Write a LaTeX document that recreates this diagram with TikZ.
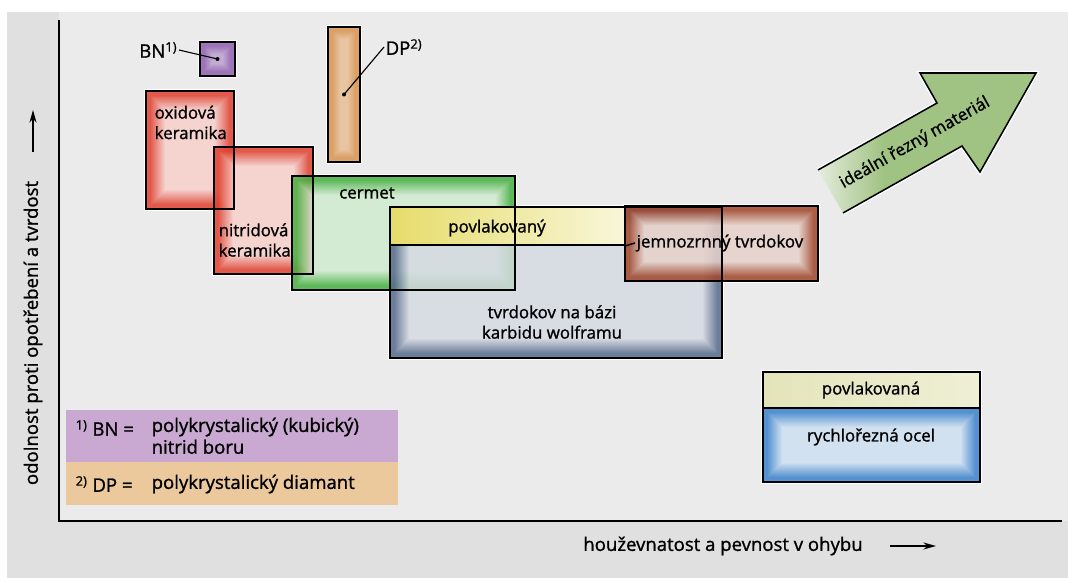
\documentclass[tikz,border=0pt]{standalone}
\usepackage{fontspec}
\setmainfont{Open Sans}[FakeBold=1.2]
\usetikzlibrary{fit,arrows.meta}

\definecolor{bggray}{HTML}{EBEBEB}
\definecolor{sidegray}{HTML}{E0E0E0}
\definecolor{oxred}{HTML}{E0402F}
\definecolor{cermetgreen}{HTML}{45B040}
\definecolor{carbblue}{HTML}{566A8C}
\definecolor{finebrown}{HTML}{A0462A}
\definecolor{bnpurple}{HTML}{9060B0}
\definecolor{dptan}{HTML}{D8944E}
\definecolor{hssblue}{HTML}{3A82CC}
\definecolor{coatyellow}{HTML}{E6DC6A}
\definecolor{hsscoat}{HTML}{E4E4BA}
\definecolor{arrowgreen}{HTML}{A0C282}
\definecolor{arrowlight}{HTML}{E4ECDC}
\definecolor{legpurple}{HTML}{C9A9D2}
\definecolor{legtan}{HTML}{EBC99D}

\pgfdeclarehorizontalshading{arrowfade}{100bp}{color(0bp)=(arrowlight); color(25bp)=(arrowlight); color(40bp)=(arrowgreen); color(100bp)=(arrowgreen)}

% box with dark edges and a light middle (#6 = number of steps)
\newcommand{\matfill}[6][19]{%
\begin{scope}[transparency group, opacity=0.85]
\foreach \i in {0,...,#1} {
\pgfmathtruncatemacro{\pc}{min(100,120-5*\i)}
\fill[#2!\pc!white] (#3+\i, #4+\i) rectangle (#5-\i, #6-\i);
}
\end{scope}
}

\tikzset{
matbox/.style={draw, line width=1.1pt, inner sep=0pt},
halo/.style={draw=white, line width=3pt},
txt/.style={inner sep=1pt, font=\fontsize{12}{14.5}\selectfont},
bigtxt/.style={inner sep=1pt, font=\fontsize{13.2}{15.5}\selectfont},
leader/.style={line width=0.8pt},
axarrow/.style={line width=1pt, -{Stealth[length=9pt, width=5pt]}},
}

\begin{document}
\begin{tikzpicture}[x=0.025cm, y=-0.025cm]
\useasboundingbox (0,0) rectangle (1068,578);
% background
\fill[white] (0,0) rectangle (1068,578);
\fill[sidegray] (7,12) rectangle (1068,578);
\fill[bggray] (59,12) rectangle (1068,521);

% white halos
\foreach \a/\b/\c/\d in {200/42/235/76, 328/27/360/162, 146/91/234/209, 214/147/313/274,
  292/176/515/290, 390/207/722/358, 625/206/818/281, 763/372/980/482} {
\draw[halo] (\a,\b) rectangle (\c,\d);
}
\draw[halo, line join=miter] (818,170) -- (937,103) -- (920,73) -- (1036,73) -- (980,172) -- (962,146) -- (843,213);

% fills
\matfill{oxred}{146}{91}{234}{209}
\matfill{oxred}{214}{147}{313}{274}
\matfill[12]{dptan}{328}{27}{360}{162}
\matfill[12]{bnpurple}{200}{42}{235}{76}
\matfill{cermetgreen}{292}{176}{515}{290}
\matfill{carbblue}{390}{207}{722}{358}
\shade[left color=coatyellow, right color=coatyellow!25!white] (390,207) rectangle (625,245);
\matfill{finebrown}{625}{206}{818}{281}
\matfill{hssblue}{763}{408}{980}{482}
\shade[left color=hsscoat, right color=hsscoat!60!white] (763,372) rectangle (980,408);

% legend
\fill[legpurple] (66,410) rectangle (398,462);
\fill[legtan] (66,462) rectangle (398,505);

% big arrow
\shade[shading=arrowfade] (818,170) -- (937,103) -- (920,73) -- (1036,73) -- (980,172) -- (962,146) -- (843,213) -- cycle;
\draw[line width=1.1pt, line join=miter] (818,170) -- (937,103) -- (920,73) -- (1036,73) -- (980,172) -- (962,146) -- (843,213);
\node[txt, rotate=29.4] (ideal) at (915,143) {ideální řezný materiál};

% borders
\node[matbox, fit={(146,91) (234,209)}] (oxid) {};
\node[matbox, fit={(214,147) (313,274)}] (nitrid) {};
\node[matbox, fit={(328,27) (360,162)}] (dp) {};
\node[matbox, fit={(200,42) (235,76)}] (bn) {};
\node[matbox, fit={(292,176) (515,290)}] (cermet) {};
\node[matbox, fit={(390,207) (722,358)}] (carbide) {};
\node[matbox, fit={(390,207) (625,245)}] (coat) {};
\node[matbox, fit={(625,206) (818,281)}] (fine) {};
\node[matbox, fit={(763,372) (980,482)}] (hss) {};
\node[matbox, fit={(763,372) (980,408)}] (hsscoat) {};

% labels
\node[txt, anchor=north west, align=left] (oxidtxt) at (153,104) {oxidová\\keramika};
\node[txt, anchor=west, align=left] (nitridtxt) at (217,240) {nitridová\\keramika};
\node[txt] (cermettxt) at (367,193) {cermet};
\node[txt] (coattxt) at (497,228) {povlakovaný};
\node[txt, anchor=west] (finetxt) at (635,243) {jemnozrnný tvrdokov};
\node[txt, align=center] (carbtxt) at (552,322) {tvrdokov na bázi\\karbidu wolframu};
\node[txt] (hsscoattxt) at (871,390) {povlakovaná};
\node[txt] (hsstxt) at (871,437) {rychlořezná ocel};
\draw[line width=1.1pt] (coat.south east) -- (finetxt.west);

% footnote marks
\node[bigtxt, anchor=east] (bntxt) at (179,50) {BN\textsuperscript{1)}};
\node[bigtxt, anchor=west] (dptxt) at (384,47) {DP\textsuperscript{2)}};
\fill (bn.center) circle (2);
\fill (dp.center) circle (2);
\draw[leader] (bntxt.east) -- (bn.center);
\draw[leader] (dptxt.west) -- (dp.center);

% legend texts
\node[bigtxt, anchor=west] (bnkey) at (74,428) {\textsuperscript{1)} BN =};
\node[bigtxt, anchor=north west, align=left] (bnexpl) at (150,416) {polykrystalický (kubický)\\nitrid boru};
\node[bigtxt, anchor=west] (dpkey) at (74,484) {\textsuperscript{2)} DP =};
\node[bigtxt, anchor=west] (dpexpl) at (150,484) {polykrystalický diamant};

% axes
\coordinate (ytop) at (59,20);
\coordinate (origin) at (59,521);
\coordinate (xend) at (1062,521);
\draw[line width=1.3pt] (ytop) -- (origin) -- (xend);
\node[bigtxt] (xlab) at (723,546) {houževnatost a pevnost v ohybu};
\coordinate (xa1) at (890,546);
\coordinate (xa2) at (936,546);
\draw[axarrow] (xa1) -- (xa2);
\node[bigtxt, rotate=90] (ylab) at (33,333) {odolnost proti opotřebení a tvrdost};
\coordinate (ya1) at (33,152);
\coordinate (ya2) at (33,110);
\draw[axarrow] (ya1) -- (ya2);
\end{tikzpicture}
\end{document}
